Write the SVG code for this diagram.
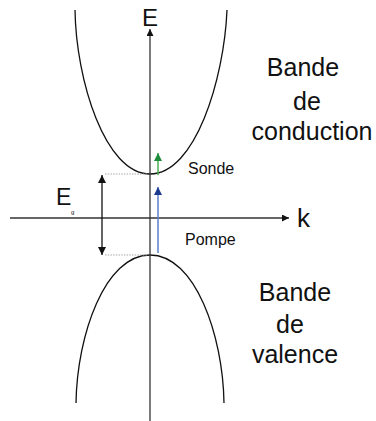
<svg xmlns="http://www.w3.org/2000/svg" width="376" height="421" viewBox="0 0 376 421">
<style>
text{font-family:"Liberation Sans","DejaVu Sans",sans-serif;fill:#111}
.axis{stroke:#333;stroke-width:1.3;fill:none}
.band{stroke:#111;stroke-width:1.3;fill:none}
.dot{stroke:#aaa;stroke-width:1.2;stroke-dasharray:1.5 1.2;fill:none}
.big{font-size:25px;text-anchor:middle}
.lbl{font-size:16px}
</style>
<defs>
<marker id="ah" viewBox="0 0 10 10" refX="10" refY="5" markerWidth="7" markerHeight="7" markerUnits="userSpaceOnUse" orient="auto"><path d="M0,0 L10,5 L0,10 z" fill="#111"/></marker>
<marker id="ahg" viewBox="0 0 10 10" refX="10" refY="5" markerWidth="8" markerHeight="8" markerUnits="userSpaceOnUse" orient="auto"><path d="M0,0 L10,5 L0,10 z" fill="#1e8c3a"/></marker>
<marker id="ahb" viewBox="0 0 10 10" refX="10" refY="5" markerWidth="8" markerHeight="8" markerUnits="userSpaceOnUse" orient="auto"><path d="M0,0 L10,5 L0,10 z" fill="#1a3a8f"/></marker>
<marker id="ahs" viewBox="0 0 10 10" refX="10" refY="5" markerWidth="8" markerHeight="8" markerUnits="userSpaceOnUse" orient="auto-start-reverse"><path d="M0,0 L10,5 L0,10 z" fill="#111"/></marker>
</defs>
<g id="conduction-band">
<path class="band" d="M75,10 C76,80 105,174 150,174 C195,174 224,80 227,10"/>
<text class="big" x="303" y="76">Bande</text>
<text class="big" x="307" y="110">de</text>
<text class="big" x="312" y="140">conduction</text>
</g>
<g id="valence-band">
<path class="band" d="M76,403 C77,335 105,255 150,255 C195,255 223,335 224,403"/>
<text class="big" x="295" y="301">Bande</text>
<text class="big" x="290" y="333">de</text>
<text class="big" x="295" y="363">valence</text>
</g>
<g id="connectors">
<line class="axis" x1="150" y1="421" x2="150" y2="29" marker-end="url(#ah)"/>
<line class="axis" x1="10" y1="218" x2="289" y2="218" marker-end="url(#ah)"/>
<line class="dot" x1="105" y1="174" x2="148" y2="174"/>
<line class="dot" x1="105" y1="255" x2="148" y2="255"/>
<line x1="102" y1="175" x2="102" y2="255" stroke="#111" stroke-width="1.3" marker-start="url(#ahs)" marker-end="url(#ahs)"/>
<line x1="158" y1="175" x2="158" y2="153" stroke="#4caf50" stroke-width="1.5" marker-end="url(#ahg)"/>
<line x1="158" y1="253" x2="158" y2="187" stroke="#5b7fd0" stroke-width="1.5" marker-end="url(#ahb)"/>
</g>
<g id="axis-labels">
<text x="150" y="26" font-size="24" text-anchor="middle">E</text>
<text x="297" y="227" font-size="26">k</text>
</g>
<g id="gap-label">
<text x="56" y="205" font-size="23">E</text>
<text x="71" y="214" font-size="6">g</text>
</g>
<g id="sonde"><text class="lbl" x="188" y="174">Sonde</text></g>
<g id="pompe"><text class="lbl" x="185" y="245">Pompe</text></g>
</svg>
